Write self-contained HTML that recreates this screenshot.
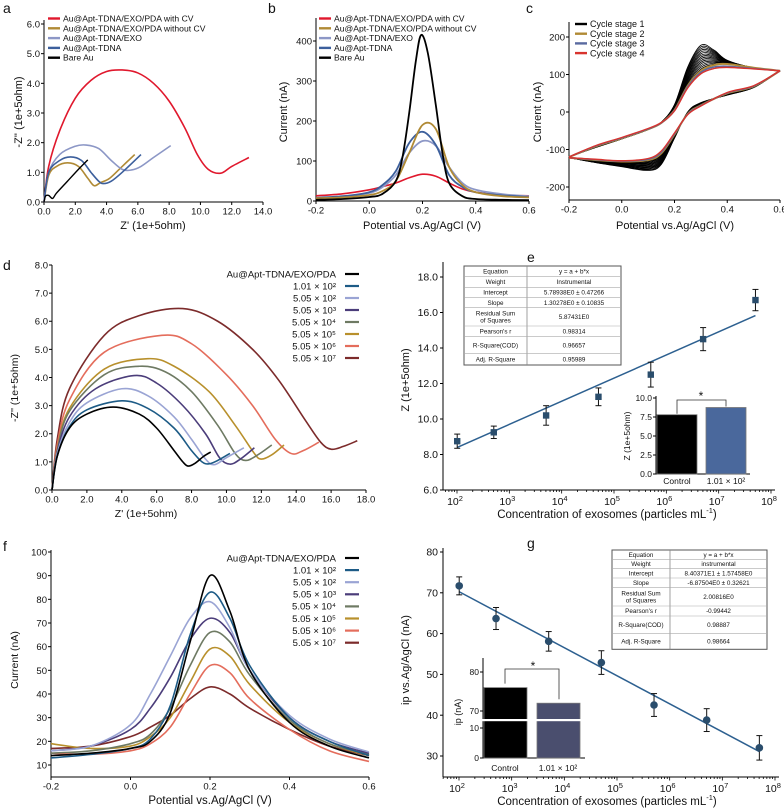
<!DOCTYPE html>
<html><head><meta charset="utf-8">
<style>
html,body{margin:0;padding:0;background:#fff;}
svg{display:block;font-family:"Liberation Sans",Arial,sans-serif;}
</style></head>
<body>
<svg id="fig" width="784" height="811" viewBox="0 0 784 811" xmlns="http://www.w3.org/2000/svg"></svg>
<script>
// ---------- DATA ----------
const aRedX=[0,0.3,1,2,3,4,5,6,7,8,9,9.8,10.5,11.3,12,13.1];
const aRedY=[0,1.2,2.4,3.5,4.1,4.4,4.45,4.35,4.0,3.4,2.5,1.6,1.1,0.97,1.2,1.5];
const aGoldX=[0,0.3,0.8,1.5,2.2,2.8,3.2,3.6,4.2,5,5.8];
const aGoldY=[0,0.9,1.2,1.32,1.2,0.8,0.55,0.65,0.8,1.2,1.6];
const aLightX=[0,0.3,1,2,2.7,3.5,4.3,5,5.6,6.2,7,8.1];
const aLightY=[0,1.0,1.6,1.88,1.92,1.8,1.4,1.1,1.08,1.2,1.5,1.9];
const aBlueX=[0,0.3,1,1.7,2.4,3,3.5,3.8,4.3,5,6.2];
const aBlueY=[0,1.0,1.4,1.52,1.4,1.0,0.7,0.62,0.7,1.0,1.6];
const aBlackX=[0,0.1,0.3,0.55,0.8,1.5,2.2,2.8];
const aBlackY=[0,0.2,0.22,0.12,0.3,0.7,1.1,1.42];
const bX=[-0.2,-0.1,0,0.05,0.1,0.15,0.2,0.25,0.3,0.35,0.4,0.5,0.6];
const bBlackX=[-0.2,-0.1,0,0.05,0.1,0.125,0.15,0.175,0.195,0.22,0.25,0.275,0.3,0.35,0.4,0.5,0.6];
const bBlack=[3,5,10,18,50,110,220,350,415,370,240,120,45,12,5,3,2];
const bGold=[7,9,15,25,50,120,190,180,85,40,22,12,9];
const bBlue=[8,12,22,40,75,145,173,140,65,35,22,14,10];
const bLight=[6,11,20,35,65,120,150,138,85,45,28,17,12];
const bRed=[13,18,28,36,45,58,67,62,45,30,22,15,13];
const cUpX=[-0.2,-0.1,0,0.1,0.15,0.2,0.25,0.3,0.35,0.4,0.5,0.6];
const cLowX=[0.6,0.5,0.4,0.3,0.25,0.2,0.15,0.1,0,-0.1,-0.2];
const cBlackUp=[-120,-95,-72,-47,-27,20,120,178,165,138,118,110];
const cBlackLow=[110,65,45,25,0,-70,-140,-156,-146,-135,-122];
const cGoldUp=[-120,-92,-70,-46,-29,5,70,110,125,128,118,110];
const cGoldLow=[110,68,50,18,-5,-60,-110,-128,-132,-128,-122];
const cBlueUp=[-120,-91,-69,-45,-29,4,67,106,120,122,116,110];
const cBlueLow=[110,69,51,17,-6,-58,-107,-126,-131,-127,-122];
const cRedUp=[-120,-90,-68,-44,-28,3,64,102,116,119,115,110];
const cRedLow=[110,70,52,16,-7,-56,-104,-124,-130,-126,-122];
const cCycles=16;
const dLabels=["Au@Apt-TDNA/EXO/PDA","1.01 × 10²","5.05 × 10²","5.05 × 10³","5.05 × 10⁴","5.05 × 10⁵","5.05 × 10⁶","5.05 × 10⁷"];
const dColors=["#000000","#1d5b86","#9aa4d4","#4b3d7a","#6e7a63","#b8902c","#e46d5c","#7c2b2b"];
const dX0=[0,0.3,1,2,3.5,5,6,7,7.5,7.8,8.2,8.7,9.1];
const dY0=[0,1.2,2.2,2.7,2.95,2.7,2.2,1.4,1.0,0.85,0.95,1.2,1.35];
const dX1=[0,0.3,1,2,4,5.5,7,8,8.6,9,9.5,10.2];
const dY1=[0,1.2,2.25,2.85,3.17,2.9,2.2,1.4,1.0,0.93,1.05,1.3];
const dX2=[0,0.3,1,2,4,5.5,7,8,8.8,9.3,10,11];
const dY2=[0,1.3,2.4,3.1,3.6,3.35,2.6,1.8,1.1,0.9,1.15,1.5];
const dX3=[0,0.3,1,2.5,4.7,6,7.5,8.8,9.6,10.2,10.8,11.6];
const dY3=[0,1.35,2.6,3.6,4.07,3.8,3.0,2.0,1.15,0.92,1.1,1.5];
const dX4=[0,0.3,1,3,5,6.5,8,9.5,10.5,11.1,11.8,12.6];
const dY4=[0,1.4,2.8,4.1,4.4,4.2,3.5,2.3,1.3,1.05,1.25,1.6];
const dX5=[0,0.3,1,3,5.5,7,9,10.5,11.6,12,12.6,13.3];
const dY5=[0,1.45,2.9,4.3,4.67,4.4,3.5,2.3,1.3,1.1,1.25,1.6];
const dX6=[0,0.3,1,3,6.3,8,10,11.5,12.8,13.7,14.4,15.3];
const dY6=[0,1.6,3.2,4.9,5.5,5.2,4.1,3.0,1.8,1.3,1.4,1.7];
const dX7=[0,0.3,1,3,5,7.5,9.5,11.5,13,14.5,15.4,16,16.7,17.5];
const dY7=[0,1.8,3.6,5.5,6.2,6.45,6.0,5.0,3.9,2.5,1.7,1.45,1.55,1.75];
const fX=[-0.2,-0.1,0,0.05,0.1,0.15,0.2,0.25,0.3,0.4,0.5,0.6];
const fY0=[14,15,17,20,32,62,90,75,50,28,18,13];
const fY1=[13,14.5,17,21,35,65,83,72,52,30,20,14];
const fY2=[16,18,27,40,56,72,79,68,50,31,21,15.5];
const fY3=[16,18,25,34,47,63,72,66,50,30,20,15];
const fY4=[15,16,19,23,34,52,66,62,48,29,19,14.5];
const fY5=[19,17,18,22,30,45,59,56,44,28,19,14];
const fY6=[15,14.5,16,19,26,40,52,49,38,25,16,11.5];
const fY7=[17,18,22,26,31,38,43,40,34,25,18,14];
const concLog=[2.004,2.703,3.703,4.703,5.703,6.703,7.703];
const eZ=[8.75,9.25,10.2,11.25,12.5,14.5,16.7];
const eErr=[0.4,0.35,0.55,0.5,0.7,0.65,0.6];
const eFit=[5.78938,1.30278];
const eTableKeys=["Equation","Weight","Intercept","Slope","Residual Sum|of Squares","Pearson's r","R-Square(COD)","Adj. R-Square"];
const eTableVals=["y = a + b*x","Instrumental","5.78938E0 ± 0.47266","1.30278E0 ± 0.10835","5.87431E0","0.98314","0.96657","0.95989"];
const eBarCats=["Control","1.01 × 10²"];
const eBarVals=[7.8,8.75];
const gI=[71.7,63.7,58.1,52.9,42.5,38.8,32.0];
const gErr=[2.2,2.7,2.4,2.9,2.8,2.8,3.0];
const gFit=[84.0371,-6.87504];
const gTableKeys=["Equation","Weight","Intercept","Slope","Residual Sum|of Squares","Pearson's r","R-Square(COD)","Adj. R-Square"];
const gTableVals=["y = a + b*x","instrumental","8.40371E1 ± 1.57458E0","-6.87504E0 ± 0.32621","2.00816E0","-0.99442","0.98887","0.98664"];
const gBarCats=["Control","1.01 × 10²"];
const gBarVals=[76,72];

// ---------- HELPERS ----------
const NS="http://www.w3.org/2000/svg";
const svg=document.getElementById('fig');
function mk(tag,attrs,parent,nm,inter){
  const e=document.createElementNS(NS,tag);
  for(const k in attrs) e.setAttribute(k,attrs[k]);
  
  
  (parent||svg).appendChild(e);
  return e;
}
function grp(nm){
  const g=document.createElementNS(NS,'g');
  
  
  svg.appendChild(g);
  return g;
}
function txt(s,x,y,size,anchor,parent,nm,extra){
  const a={x:x,y:y,'font-size':size,'text-anchor':anchor||'start',fill:'#111'};
  if(extra) for(const k in extra) a[k]=extra[k];
  const t=mk('text',a,parent,nm);
  t.textContent=s;
  return t;
}
function smooth(p){
  if(p.length<2) return '';
  let d='M'+p[0][0].toFixed(2)+','+p[0][1].toFixed(2);
  for(let i=0;i<p.length-1;i++){
    const p0=p[i-1]||p[i],p1=p[i],p2=p[i+1],p3=p[i+2]||p2;
    const c1=[p1[0]+(p2[0]-p0[0])/6,p1[1]+(p2[1]-p0[1])/6];
    const c2=[p2[0]-(p3[0]-p1[0])/6,p2[1]-(p3[1]-p1[1])/6];
    d+='C'+c1[0].toFixed(2)+','+c1[1].toFixed(2)+' '+c2[0].toFixed(2)+','+c2[1].toFixed(2)+' '+p2[0].toFixed(2)+','+p2[1].toFixed(2);
  }
  return d;
}
function lin(v0,v1,p0,p1){return v=>p0+(v-v0)/(v1-v0)*(p1-p0);}
function series(g,xs,ys,sx,sy,color,w,nm){
  const pts=xs.map((x,i)=>[sx(x),sy(ys[i])]);
  return mk('path',{d:smooth(pts),fill:'none',stroke:color,'stroke-width':w,'stroke-linejoin':'round'},g,nm);
}
function linAxes(g,o){
  mk('line',{x1:o.x0,y1:o.yb,x2:o.x1,y2:o.yb,stroke:'#000','stroke-width':1},g,'x-axis-line');
  mk('line',{x1:o.x0,y1:o.yb,x2:o.x0,y2:o.ytop,stroke:'#000','stroke-width':1},g,'y-axis-line');
  o.xt.forEach(v=>{
    const x=o.sx(v);
    mk('line',{x1:x,y1:o.yb,x2:x,y2:o.yb+3,stroke:'#000','stroke-width':1},g,'x-tick');
    txt(o.fmtX(v),x,o.yb+3.5+o.size*0.95,o.size,'middle',g,'x-tick-label');
  });
  o.yt.forEach(v=>{
    const y=o.sy(v);
    mk('line',{x1:o.x0-3,y1:y,x2:o.x0,y2:y,stroke:'#000','stroke-width':1},g,'y-tick');
    txt(o.fmtY(v),o.x0-4,y+o.size*0.36,o.size,'end',g,'y-tick-label');
  });
}
function rng(a,b,s){const r=[];for(let v=a;v<=b+1e-9;v+=s) r.push(+v.toFixed(6));return r;}
function legendLeft(g,x,y0,dy,labels,colors,size){
  labels.forEach((l,i)=>{
    const y=y0+i*dy;
    mk('line',{x1:x,y1:y,x2:x+12,y2:y,stroke:colors[i],'stroke-width':2.4},g,'legend-swatch');
    txt(l,x+15,y+size*0.35,size,'start',g,'legend-entry');
  });
}
function legendRight(g,xEnd,y0,dy,labels,colors,size){
  labels.forEach((l,i)=>{
    const y=y0+i*dy;
    txt(l,xEnd,y+size*0.35,size,'end',g,'legend-entry');
    mk('line',{x1:xEnd+9,y1:y,x2:xEnd+23,y2:y,stroke:colors[i],'stroke-width':2.2},g,'legend-swatch');
  });
}
function panelLabel(s,x,y){txt(s,x,y,14,'start',svg,'panel-label-'+s);}

// ---------- PANEL A ----------
(function(){
  const g=grp('panel-a');
  const sx=lin(0,14,44,263), sy=lin(0,6,202,24);
  linAxes(g,{x0:44,x1:263,yb:202,ytop:20,sx,sy,xt:rng(0,14,2),yt:rng(0,6,1),fmtX:v=>v.toFixed(1),fmtY:v=>v.toFixed(1),size:9.5});
  series(g,aRedX,aRedY,sx,sy,'#e0182d',1.6,'series-pda-with-cv');
  series(g,aGoldX,aGoldY,sx,sy,'#b08a35',1.6,'series-pda-without-cv');
  series(g,aLightX,aLightY,sx,sy,'#8c97c6',1.6,'series-exo');
  series(g,aBlueX,aBlueY,sx,sy,'#3c5f9c',1.6,'series-tdna');
  series(g,aBlackX,aBlackY,sx,sy,'#000',1.4,'series-bare-au');
  const L=["Au@Apt-TDNA/EXO/PDA with CV","Au@Apt-TDNA/EXO/PDA without CV","Au@Apt-TDNA/EXO","Au@Apt-TDNA","Bare Au"];
  const C=['#e0182d','#b08a35','#8c97c6','#3c5f9c','#000'];
  legendLeft(g,48,18.5,9.8,L,C,8.6);
  txt("Z' (1e+5ohm)",153,229,11,'middle',g,'x-axis-title');
  txt("-Z'' (1e+5ohm)",0,0,11,'middle',g,'y-axis-title',{transform:'translate(22,112) rotate(-90)'});
})();
// ---------- PANEL B ----------
(function(){
  const g=grp('panel-b');
  const sx=lin(-0.2,0.6,316,529), sy=lin(0,400,201,41);
  linAxes(g,{x0:316,x1:529,yb:201,ytop:18,sx,sy,xt:rng(-0.2,0.6,0.2),yt:rng(0,400,100),fmtX:v=>v.toFixed(1),fmtY:v=>String(Math.round(v)),size:9.5});
  series(g,bX,bRed,sx,sy,'#e0182d',1.6,'series-pda-with-cv');
  series(g,bX,bLight,sx,sy,'#8c97c6',1.8,'series-exo');
  series(g,bX,bBlue,sx,sy,'#3c5f9c',1.8,'series-tdna');
  series(g,bX,bGold,sx,sy,'#b08a35',1.8,'series-pda-without-cv');
  series(g,bBlackX,bBlack,sx,sy,'#000',1.8,'series-bare-au');
  const L=["Au@Apt-TDNA/EXO/PDA with CV","Au@Apt-TDNA/EXO/PDA without CV","Au@Apt-TDNA/EXO","Au@Apt-TDNA","Bare Au"];
  const C=['#e0182d','#b08a35','#8c97c6','#3c5f9c','#000'];
  legendLeft(g,319,18.5,9.8,L,C,8.6);
  txt("Potential vs.Ag/AgCl (V)",422,229,11,'middle',g,'x-axis-title');
  txt("Current (nA)",0,0,11,'middle',g,'y-axis-title',{transform:'translate(287,112) rotate(-90)'});
})();
// ---------- PANEL C ----------
(function(){
  const g=grp('panel-c');
  const sx=lin(-0.2,0.6,569,780), sy=lin(0,200,112,37);
  linAxes(g,{x0:569,x1:780,yb:200,ytop:22,sx,sy,xt:rng(-0.2,0.6,0.2),yt:rng(-200,200,100),fmtX:v=>v.toFixed(1),fmtY:v=>String(Math.round(v)),size:9.5});
  function loop(up,low,color,w,nm){
    const pts=cUpX.map((x,i)=>[sx(x),sy(up[i])]);
    const pts2=cLowX.map((x,i)=>[sx(x),sy(low[i])]);
    mk('path',{d:smooth(pts)+smooth(pts2),fill:'none',stroke:color,'stroke-width':w},g,nm);
  }
  for(let k=0;k<cCycles;k++){
    const t=k/(cCycles-1);
    const up=cBlackUp.map((v,i)=>v+(cGoldUp[i]-v)*t);
    const low=cBlackLow.map((v,i)=>v+(cGoldLow[i]-v)*t);
    loop(up,low,'#000',0.8,'cycle-stage-1-curve');
  }
  loop(cGoldUp,cGoldLow,'#b08a35',2,'cycle-stage-2-curve');
  loop(cBlueUp,cBlueLow,'#5a6aa0',1.6,'cycle-stage-3-curve');
  loop(cRedUp,cRedLow,'#d8342e',1.4,'cycle-stage-4-curve');
  legendLeft(g,575,24,9.7,["Cycle stage 1","Cycle stage 2","Cycle stage 3","Cycle stage 4"],['#000','#b08a35','#5a6aa0','#d8342e'],9);
  txt("Potential vs.Ag/AgCl (V)",675,229,11,'middle',g,'x-axis-title');
  txt("Current (nA)",0,0,11,'middle',g,'y-axis-title',{transform:'translate(541,112) rotate(-90)'});
})();
// ---------- PANEL D ----------
(function(){
  const g=grp('panel-d');
  const sx=lin(0,18,52,366), sy=lin(0,8,490,265);
  linAxes(g,{x0:52,x1:366,yb:490,ytop:265,sx,sy,xt:rng(0,18,2),yt:rng(0,8,1),fmtX:v=>v.toFixed(1),fmtY:v=>v.toFixed(1),size:9.5});
  const XS=[dX0,dX1,dX2,dX3,dX4,dX5,dX6,dX7], YS=[dY0,dY1,dY2,dY3,dY4,dY5,dY6,dY7];
  for(let i=7;i>=0;i--) series(g,XS[i],YS[i],sx,sy,dColors[i],1.6,'series-'+i);
  legendRight(g,336,274,12,dLabels,dColors,9.5);
  txt("Z' (1e+5ohm)",146,517,10.5,'middle',g,'x-axis-title');
  txt("-Z'' (1e+5ohm)",0,0,10.5,'middle',g,'y-axis-title',{transform:'translate(18,388) rotate(-90)'});
})();
// ---------- PANEL F ----------
(function(){
  const g=grp('panel-f');
  const sx=lin(-0.2,0.6,51,369), sy=lin(10,100,765,552);
  linAxes(g,{x0:51,x1:369,yb:777,ytop:550,sx,sy,xt:rng(-0.2,0.6,0.2),yt:rng(10,100,10),fmtX:v=>v.toFixed(1),fmtY:v=>String(Math.round(v)),size:9.5});
  const YS=[fY0,fY1,fY2,fY3,fY4,fY5,fY6,fY7];
  for(let i=7;i>=0;i--) series(g,fX,YS[i],sx,sy,dColors[i],1.6,'series-'+i);
  legendRight(g,336,558,12.1,dLabels,dColors,9.5);
  txt("Potential vs.Ag/AgCl (V)",210,804,11.5,'middle',g,'x-axis-title');
  txt("Current (nA)",0,0,10.5,'middle',g,'y-axis-title',{transform:'translate(18,660) rotate(-90)'});
})();
// ---------- calibration helpers ----------
function logAxis(g,x0,x1,yb,sx){
  mk('line',{x1:x0,y1:yb,x2:x1,y2:yb,stroke:'#000','stroke-width':1},g,'x-axis-line');
  for(let d=1;d<=8;d++){
    for(let m=1;m<=9;m++){
      const x=sx(d+Math.log10(m));
      if(x<x0||x>x1) continue;
      mk('line',{x1:x,y1:yb,x2:x,y2:yb+(m===1?3.5:2),stroke:'#000','stroke-width':0.8},g,m===1?'x-major-tick':'x-minor-tick');
    }
  }
  for(let d=2;d<=8;d++){
    const x=sx(d);
    const t=mk('text',{x:x-2,y:yb+15,'font-size':10.5,'text-anchor':'middle',fill:'#111'},g,'x-tick-label');
    t.textContent='10';
    const s=mk('tspan',{dy:-4,'font-size':7.5},t,'x-tick-exponent');
    s.textContent=String(d);
  }
}
function table(g,x0,x1,xs,rowsY,keys,vals){
  mk('rect',{x:x0,y:rowsY[0],width:x1-x0,height:rowsY[rowsY.length-1]-rowsY[0],fill:'#fff',stroke:'#555','stroke-width':1},g,'fit-table');
  mk('line',{x1:xs,y1:rowsY[0],x2:xs,y2:rowsY[rowsY.length-1],stroke:'#888','stroke-width':0.8},g,'table-divider');
  for(let i=1;i<rowsY.length-1;i++) mk('line',{x1:x0,y1:rowsY[i],x2:x1,y2:rowsY[i],stroke:'#aaa','stroke-width':0.6},g,'table-row-line');
  keys.forEach((k,i)=>{
    const ym=(rowsY[i]+rowsY[i+1])/2;
    const parts=k.split('|');
    parts.forEach((p,j)=>txt(p,(x0+xs)/2,ym+2.2+(j-(parts.length-1)/2)*7,6.3,'middle',g,'table-key'));
    txt(vals[i],(xs+x1)/2,ym+2.2,6.3,'middle',g,'table-value');
  });
}
function xTitle(g,y){
  const t=mk('text',{x:607,y:y,'font-size':11.5,'text-anchor':'middle',fill:'#111'},g,'x-axis-title');
  const a=mk('tspan',{},t,'x-axis-title-main');
  a.textContent='Concentration of exosomes (particles mL';
  const b=mk('tspan',{dy:-5,'font-size':7.5},t,'x-axis-title-sup');
  b.textContent='-1';
  const c=mk('tspan',{dy:5},t,'x-axis-title-end');
  c.textContent=')';
}
// ---------- PANEL E ----------
(function(){
  const g=grp('panel-e');
  const sx=lin(2,8,457,771), sy=lin(6,18,490,277);
  logAxis(g,443,775,490,sx);
  mk('line',{x1:443,y1:490,x2:443,y2:262,stroke:'#000','stroke-width':1},g,'y-axis-line');
  rng(6,18,2).forEach(v=>{
    mk('line',{x1:440,y1:sy(v),x2:443,y2:sy(v),stroke:'#000'},g,'y-tick');
    txt(v.toFixed(1),438,sy(v)+3.6,10.5,'end',g,'y-tick-label');
  });
  const xa=concLog[0], xb=concLog[concLog.length-1];
  mk('line',{x1:sx(xa),y1:sy(eFit[0]+eFit[1]*xa),x2:sx(xb),y2:sy(eFit[0]+eFit[1]*xb),stroke:'#2d6090','stroke-width':1.5},g,'fit-line');
  concLog.forEach((c,i)=>{
    const x=sx(c);
    mk('line',{x1:x,y1:sy(eZ[i]-eErr[i]),x2:x,y2:sy(eZ[i]+eErr[i]),stroke:'#111','stroke-width':1},g,'error-bar');
    mk('line',{x1:x-3,y1:sy(eZ[i]+eErr[i]),x2:x+3,y2:sy(eZ[i]+eErr[i]),stroke:'#111','stroke-width':1},g,'error-cap');
    mk('line',{x1:x-3,y1:sy(eZ[i]-eErr[i]),x2:x+3,y2:sy(eZ[i]-eErr[i]),stroke:'#111','stroke-width':1},g,'error-cap');
    mk('rect',{x:x-3.2,y:sy(eZ[i])-3.2,width:6.4,height:6.4,fill:'#2a4d6c'},g,'data-point');
  });
  table(g,464,621,527,[266,276.7,287.3,297.7,307.7,326,336.7,353.7,365],eTableKeys,eTableVals);
  const by=lin(0,10,474,398);
  mk('line',{x1:656,y1:474,x2:656,y2:396,stroke:'#000'},g,'inset-y-axis');
  mk('line',{x1:656,y1:474,x2:750,y2:474,stroke:'#000'},g,'inset-x-axis');
  [0,2.5,5,7.5,10].forEach(v=>{
    mk('line',{x1:653,y1:by(v),x2:656,y2:by(v),stroke:'#000'},g,'inset-y-tick');
    txt(v.toFixed(1),652,by(v)+3,8.5,'end',g,'inset-y-tick-label');
  });
  const bx=[657,706], bc=['#000','#4a689c'];
  eBarVals.forEach((v,i)=>{
    mk('rect',{x:bx[i],y:by(v),width:40,height:474-by(v),fill:bc[i],stroke:'#777','stroke-width':0.8},g,'inset-bar');
    txt(eBarCats[i],bx[i]+20,484,8.5,'middle',g,'inset-x-label');
  });
  mk('path',{d:`M677,${by(eBarVals[0])-1}V400H726V${by(eBarVals[1])-1}`,fill:'none',stroke:'#333','stroke-width':0.8},g,'significance-bracket');
  txt('*',701,400,12,'middle',g,'significance-star');
  txt("Z (1e+5ohm)",0,0,8.5,'middle',g,'inset-y-title',{transform:'translate(630,436) rotate(-90)'});
  xTitle(g,518);
  txt("Z (1e+5ohm)",0,0,11,'middle',g,'y-axis-title',{transform:'translate(409,380) rotate(-90)'});
})();
// ---------- PANEL G ----------
(function(){
  const g=grp('panel-g');
  const sx=lin(2,8,459,775), sy=lin(30,80,756,552);
  logAxis(g,443,779,777,sx);
  mk('line',{x1:443,y1:777,x2:443,y2:548,stroke:'#000','stroke-width':1},g,'y-axis-line');
  rng(30,80,10).forEach(v=>{
    mk('line',{x1:440,y1:sy(v),x2:443,y2:sy(v),stroke:'#000'},g,'y-tick');
    txt(String(v),438,sy(v)+3.6,10.5,'end',g,'y-tick-label');
  });
  const xa=concLog[0], xb=concLog[concLog.length-1];
  mk('line',{x1:sx(xa),y1:sy(gFit[0]+gFit[1]*xa),x2:sx(xb),y2:sy(gFit[0]+gFit[1]*xb),stroke:'#2d6090','stroke-width':1.5},g,'fit-line');
  concLog.forEach((c,i)=>{
    const x=sx(c);
    mk('line',{x1:x,y1:sy(gI[i]-gErr[i]),x2:x,y2:sy(gI[i]+gErr[i]),stroke:'#111','stroke-width':1},g,'error-bar');
    mk('line',{x1:x-3,y1:sy(gI[i]+gErr[i]),x2:x+3,y2:sy(gI[i]+gErr[i]),stroke:'#111','stroke-width':1},g,'error-cap');
    mk('line',{x1:x-3,y1:sy(gI[i]-gErr[i]),x2:x+3,y2:sy(gI[i]-gErr[i]),stroke:'#111','stroke-width':1},g,'error-cap');
    mk('circle',{cx:x,cy:sy(gI[i]),r:3.8,fill:'#2a4d6c'},g,'data-point');
  });
  table(g,612,767,670,[550,559.3,568.7,578,587.3,606,616,633.3,649.3],gTableKeys,gTableVals);
  const byLow=lin(0,10,758,728), byHigh=lin(70,80,711,672);
  const by=v=>v<=10?byLow(v):byHigh(v);
  mk('line',{x1:483,y1:758,x2:483,y2:658,stroke:'#000'},g,'inset-y-axis');
  mk('line',{x1:483,y1:758,x2:585,y2:758,stroke:'#000'},g,'inset-x-axis');
  [0,10,70,80].forEach(v=>{
    mk('line',{x1:480,y1:by(v),x2:483,y2:by(v),stroke:'#000'},g,'inset-y-tick');
    txt(String(v),479,by(v)+3,8.5,'end',g,'inset-y-tick-label');
  });
  const bx=[484,537], bc=['#000','#4a4e6e'];
  gBarVals.forEach((v,i)=>{
    mk('rect',{x:bx[i],y:by(v),width:43,height:758-by(v),fill:bc[i],stroke:'#777','stroke-width':0.8},g,'inset-bar');
    txt(gBarCats[i],bx[i]+21,771,8.5,'middle',g,'inset-x-label');
  });
  mk('rect',{x:479,y:719,width:104,height:2.2,fill:'#fff'},g,'axis-break');
  mk('path',{d:`M505,${by(gBarVals[0])-4}V669H559V${by(gBarVals[1])-4}`,fill:'none',stroke:'#333','stroke-width':0.8},g,'significance-bracket');
  txt('*',533,670,12,'middle',g,'significance-star');
  txt("ip (nA)",0,0,9,'middle',g,'inset-y-title',{transform:'translate(461,712) rotate(-90)'});
  xTitle(g,805);
  txt("ip vs.Ag/AgCl (nA)",0,0,11,'middle',g,'y-axis-title',{transform:'translate(409,660) rotate(-90)'});
})();
panelLabel('a',3,13);panelLabel('b',268,13);panelLabel('c',526,13);
panelLabel('d',3,270);panelLabel('e',527,262);panelLabel('f',3,551);panelLabel('g',527,548);
</script>
</body></html>
